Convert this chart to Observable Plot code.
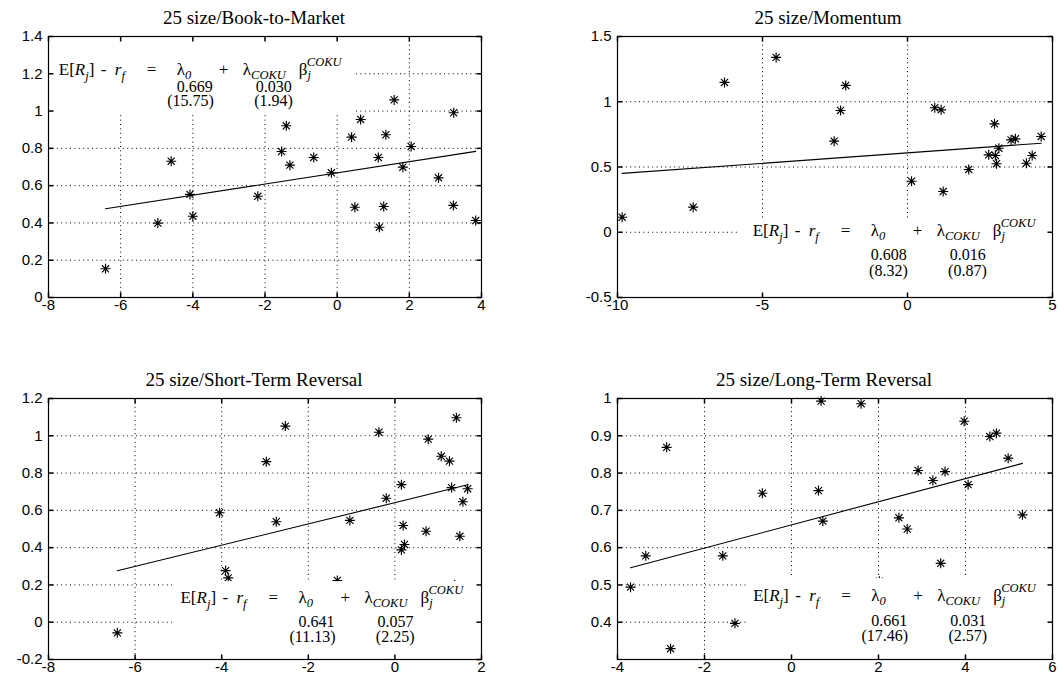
<!DOCTYPE html>
<html>
<head>
<meta charset="utf-8">
<script src="https://cdn.jsdelivr.net/npm/d3@7"></script>
<script src="https://cdn.jsdelivr.net/npm/@observablehq/plot@0.6"></script>
<style>
  html, body { margin: 0; padding: 0; background: #fff; }
  #chart { position: relative; width: 1059px; height: 682px; background: #fff; overflow: hidden; }
  #chart > svg { position: absolute; }
</style>
</head>
<body>
<div id="chart"></div>
<script>
// ---------------- DATA ----------------
const titles = ["25 size/Book-to-Market", "25 size/Momentum", "25 size/Short-Term Reversal", "25 size/Long-Term Reversal"];

// Panel 1: Book-to-Market
const bmX = [-6.42, -4.97, -4.60, -4.08, -4.00, -2.20, -1.54, -1.41, -1.31, -0.65, -0.16, 0.40, 0.49, 0.65, 1.14, 1.17, 1.29, 1.35, 1.58, 1.82, 2.05, 2.81, 3.23, 3.22, 3.84];
const bmY = [0.154, 0.399, 0.731, 0.553, 0.436, 0.543, 0.783, 0.921, 0.710, 0.751, 0.669, 0.860, 0.484, 0.955, 0.751, 0.377, 0.488, 0.873, 1.060, 0.699, 0.810, 0.642, 0.991, 0.494, 0.413];
const bmFitX = [-6.42, 3.84];
const bmFitY = [0.476, 0.784];

// Panel 2: Momentum
const momX = [-9.84, -7.39, -6.31, -4.53, -2.53, -2.31, -2.13, 0.14, 0.94, 1.16, 1.23, 2.11, 2.80, 3.00, 3.03, 3.07, 3.15, 3.57, 3.72, 4.10, 4.30, 4.61];
const momY = [0.115, 0.192, 1.148, 1.340, 0.698, 0.933, 1.125, 0.391, 0.954, 0.938, 0.312, 0.481, 0.593, 0.831, 0.588, 0.525, 0.644, 0.708, 0.716, 0.529, 0.588, 0.734];
const momFitX = [-9.84, 4.61];
const momFitY = [0.451, 0.682];

// Panel 3: Short-Term Reversal
const strX = [-6.41, -4.05, -3.91, -3.85, -2.97, -2.74, -2.53, -1.33, -1.04, -0.37, -0.20, 0.15, 0.19, 0.15, 0.22, 0.72, 0.77, 1.07, 1.26, 1.31, 1.42, 1.50, 1.57, 1.68, 1.38];
const strY = [-0.057, 0.587, 0.277, 0.238, 0.861, 0.539, 1.052, 0.224, 0.546, 1.019, 0.665, 0.738, 0.519, 0.388, 0.417, 0.488, 0.982, 0.890, 0.864, 0.722, 1.097, 0.461, 0.646, 0.716, 0.200];
const strFitX = [-6.41, 1.68];
const strFitY = [0.276, 0.737];

// Panel 4: Long-Term Reversal
const ltrX = [-3.70, -3.35, -2.87, -2.78, -1.58, -1.30, -0.67, 0.62, 0.68, 0.72, 1.60, 2.02, 2.47, 2.66, 2.91, 3.25, 3.43, 3.53, 3.97, 4.06, 4.56, 4.71, 4.98, 5.31];
const ltrY = [0.494, 0.578, 0.869, 0.329, 0.578, 0.397, 0.746, 0.753, 0.993, 0.671, 0.986, 0.510, 0.680, 0.650, 0.807, 0.780, 0.558, 0.804, 0.939, 0.769, 0.898, 0.907, 0.840, 0.688];
const ltrFitX = [-3.70, 5.31];
const ltrFitY = [0.546, 0.826];

// Estimates (lambda_0, lambda_COKU) and t-statistics
const lambda0 = ["0.669", "0.608", "0.641", "0.661"];
const lambdaCoku = ["0.030", "0.016", "0.057", "0.031"];
const tLambda0 = ["(15.75)", "(8.32)", "(11.13)", "(17.46)"];
const tLambdaCoku = ["(1.94)", "(0.87)", "(2.25)", "(2.57)"];

// Axes ticks
const xTicks1 = [-8, -6, -4, -2, 0, 2, 4];
const yTicks1 = [0, 0.2, 0.4, 0.6, 0.8, 1, 1.2, 1.4];
const xTicks2 = [-10, -5, 0, 5];
const yTicks2 = [-0.5, 0, 0.5, 1, 1.5];
const xTicks3 = [-8, -6, -4, -2, 0, 2];
const yTicks3 = [-0.2, 0, 0.2, 0.4, 0.6, 0.8, 1, 1.2];
const xTicks4 = [-4, -2, 0, 2, 4, 6];
const yTicks4 = [0.4, 0.5, 0.6, 0.7, 0.8, 0.9, 1];

// ---------------- LAYOUT ----------------
const panels = [
  {xs: bmX, ys: bmY, fx: bmFitX, fy: bmFitY, xd: [-8, 4], yd: [0, 1.4], xt: xTicks1, yt: yTicks1,
   gx: [-6, -4, -2, 0, 2], gy: [0.2, 0.4, 0.6, 0.8, 1, 1.2],
   box: [-8, 0.5, 0.985, 1.4], eq: [-7.70, 1.191], rows: [17, 31],
   left: 0, top: 0, w: 529, h: 341, m: [36, 48, 44, 48], tcx: 254},
  {xs: momX, ys: momY, fx: momFitX, fy: momFitY, xd: [-10, 5], yd: [-0.5, 1.5], xt: xTicks2, yt: yTicks2,
   gx: [-5, 0], gy: [0, 0.5, 1],
   box: [-5.8, 5, -0.5, 0.1], eq: [-5.32, -0.033], rows: [24, 40],
   left: 529, top: 0, w: 530, h: 341, m: [36, 7, 44, 88], tcx: 299},
  {xs: strX, ys: strY, fx: strFitX, fy: strFitY, xd: [-8, 2], yd: [-0.2, 1.2], xt: xTicks3, yt: yTicks3,
   gx: [-6, -4, -2, 0], gy: [0, 0.2, 0.4, 0.6, 0.8, 1],
   box: [-5.13, 2, -0.2, 0.218], eq: [-4.94, 0.100], rows: [24, 39],
   left: 0, top: 341, w: 529, h: 341, m: [57, 48, 23, 48], tcx: 254},
  {xs: ltrX, ys: ltrY, fx: ltrFitX, fy: ltrFitY, xd: [-4, 6], yd: [0.3, 1], xt: xTicks4, yt: yTicks4,
   gx: [-2, 0, 2, 4], gy: [0.4, 0.5, 0.6, 0.7, 0.8, 0.9],
   box: [-0.98, 6, 0.3, 0.517], eq: [-0.87, 0.4555], rows: [25, 40],
   left: 529, top: 341, w: 530, h: 341, m: [57, 7, 23, 88], tcx: 295}
];

const serif = "'Liberation Serif', 'Times New Roman', Times, serif";
const sans = "'Liberation Sans', Arial, Helvetica, sans-serif";

const asterisk = {
  draw(ctx, size) {
    const r = Math.sqrt(size / Math.PI), d = r * Math.SQRT1_2;
    ctx.moveTo(-r, 0); ctx.lineTo(r, 0);
    ctx.moveTo(0, -r); ctx.lineTo(0, r);
    ctx.moveTo(-d, -d); ctx.lineTo(d, d);
    ctx.moveTo(-d, d); ctx.lineTo(d, -d);
  }
};
const tickSym = (dx, dy) => ({draw(ctx) { ctx.moveTo(0, 0); ctx.lineTo(dx, dy); }});
const fmt = d => String(+d.toFixed(2));

const chart = document.getElementById("chart");

panels.forEach((p, i) => {
  const pts = p.xs.map((x, k) => ({x, y: p.ys[k]}));
  const fit = p.fx.map((x, k) => ({x, y: p.fy[k]}));
  const box = [{x1: p.box[0], x2: p.box[1], y1: p.box[2], y2: p.box[3]}];
  const [x0, x1] = p.xd, [y0, y1] = p.yd;
  const plot = Plot.plot({
    width: p.w, height: p.h,
    marginTop: p.m[0], marginRight: p.m[1], marginBottom: p.m[2], marginLeft: p.m[3],
    x: {domain: p.xd}, y: {domain: p.yd},
    style: {fontFamily: sans, fontSize: "15px", color: "black", background: "white", overflow: "visible"},
    marks: [
      Plot.ruleX(p.gx, {stroke: "black", strokeWidth: 1, strokeDasharray: "1,3.4"}),
      Plot.ruleY(p.gy, {stroke: "black", strokeWidth: 1, strokeDasharray: "1,3.4"}),
      Plot.dot(pts, {x: "x", y: "y", r: 5, symbol: asterisk, stroke: "black", fill: "none", strokeWidth: 1.15}),
      Plot.line(fit, {x: "x", y: "y", stroke: "black", strokeWidth: 1.1}),
      Plot.rect(box, {x1: "x1", x2: "x2", y1: "y1", y2: "y2", fill: "white"}),
      Plot.frame({stroke: "black", strokeWidth: 1.2}),
      Plot.dot(p.xt, {x: d => d, y: () => y0, r: 5, symbol: tickSym(0, -5), stroke: "black", fill: "none"}),
      Plot.dot(p.xt, {x: d => d, y: () => y1, r: 5, symbol: tickSym(0, 5), stroke: "black", fill: "none"}),
      Plot.dot(p.yt, {y: d => d, x: () => x0, r: 5, symbol: tickSym(5, 0), stroke: "black", fill: "none"}),
      Plot.dot(p.yt, {y: d => d, x: () => x1, r: 5, symbol: tickSym(-5, 0), stroke: "black", fill: "none"}),
      Plot.axisX(p.xt, {anchor: "bottom", tickSize: 0, tickPadding: 2, tickFormat: fmt, label: null, fontSize: 15}),
      Plot.axisY(p.yt, {anchor: "left", tickSize: 0, tickPadding: 6, tickFormat: fmt, label: null, fontSize: 15})
    ]
  });
  plot.style.left = p.left + "px";
  plot.style.top = p.top + "px";
  chart.appendChild(plot);

  const svg = d3.select(plot);
  // Title
  svg.append("text")
    .attr("x", p.tcx).attr("y", p.m[0] - 12)
    .attr("text-anchor", "middle")
    .attr("font-family", serif).attr("font-size", 19).attr("fill", "black")
    .text(titles[i]);

  // Equation annotation
  const sx = plot.scale("x"), sy = plot.scale("y");
  const ax = sx.apply(p.eq[0]), ay = sy.apply(p.eq[1]);
  const g = svg.append("g").attr("font-family", serif).attr("fill", "black")
    .attr("font-size", 17).attr("text-anchor", "start");
  const sub = 12.5;

  const tA = g.append("text").attr("x", ax).attr("y", ay);
  tA.append("tspan").text("E[");
  tA.append("tspan").attr("font-style", "italic").text("R");
  tA.append("tspan").attr("font-style", "italic").attr("font-size", sub).attr("dy", 5).text("j");
  tA.append("tspan").attr("dy", -5).text("]");

  g.append("text").attr("x", ax + 42).attr("y", ay).text("-");

  const tC = g.append("text").attr("x", ax + 56).attr("y", ay);
  tC.append("tspan").attr("font-style", "italic").text("r");
  tC.append("tspan").attr("font-style", "italic").attr("font-size", sub).attr("dy", 5).text("f");

  g.append("text").attr("x", ax + 88).attr("y", ay).text("=");

  const tE = g.append("text").attr("x", ax + 118).attr("y", ay);
  tE.append("tspan").text("λ");
  tE.append("tspan").attr("font-style", "italic").attr("font-size", sub).attr("dy", 4).text("0");

  g.append("text").attr("x", ax + 160).attr("y", ay).text("+");

  const tG = g.append("text").attr("x", ax + 184).attr("y", ay);
  tG.append("tspan").text("λ");
  tG.append("tspan").attr("font-style", "italic").attr("font-size", sub).attr("dy", 4).text("COKU");

  const tH = g.append("text").attr("x", ax + 240).attr("y", ay);
  tH.append("tspan").text("β");
  tH.append("tspan").attr("font-style", "italic").attr("font-size", sub).attr("dy", 4).text("j");

  g.append("text").attr("x", ax + 248).attr("y", ay - 9)
    .attr("font-style", "italic").attr("font-size", sub).text("COKU");

  const g2 = g.append("g").attr("text-anchor", "end").attr("font-size", 16);
  g2.append("text").attr("x", ax + 154).attr("y", ay + p.rows[0]).text(lambda0[i]);
  g2.append("text").attr("x", ax + 233).attr("y", ay + p.rows[0]).text(lambdaCoku[i]);
  g2.append("text").attr("x", ax + 155).attr("y", ay + p.rows[1]).text(tLambda0[i]);
  g2.append("text").attr("x", ax + 234).attr("y", ay + p.rows[1]).text(tLambdaCoku[i]);
});
</script>
</body>
</html>
